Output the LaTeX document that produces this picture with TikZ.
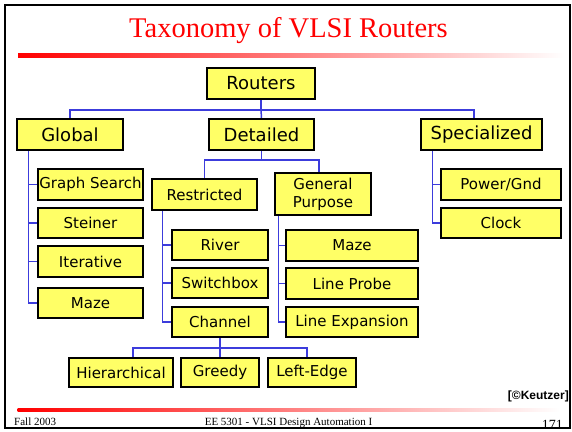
\documentclass[tikz,border=0pt]{standalone}
\usepackage{fontspec}
\setmainfont{Liberation Serif}
\newfontfamily\boxfont{DejaVu Sans}
\newfontfamily\credfont{Liberation Sans}
\usetikzlibrary{calc}
\definecolor{boxyellow}{RGB}{255,255,102}
\definecolor{linkblue}{RGB}{60,60,220}
\pgfdeclarelayer{back}
\pgfdeclarelayer{bg}
\pgfsetlayers{back,bg,main}
\begin{document}
\begin{tikzpicture}[x=1pt,y=-1pt,
  box/.style={draw=black,line width=1.5pt,fill=boxyellow,inner sep=0pt,
    font=\boxfont\fontsize{15}{18}\selectfont,align=center},
  headbox/.style={box,font=\boxfont\fontsize{18}{21}\selectfont},
  conn/.style={draw=linkblue,line width=1.5pt}]
\useasboundingbox (0,0) rectangle (572,431);
\begin{pgfonlayer}{back}
\fill[white] (0,0) rectangle (572,431);
\end{pgfonlayer}

% title and rules
\node[text=red,font=\fontsize{28.5}{32}\selectfont,anchor=base] (title) at (288.5,37) {Taxonomy of VLSI Routers};
\shade[left color=red,right color=white] (18,53.5) rectangle (565,57);
\shade[left color=red,right color=white] (17.5,408.3) rectangle (560,411.5);

% tree
\node[headbox,minimum width=108pt,minimum height=31pt] (routers) at (261,83.5) {Routers};
\node[headbox,minimum width=106pt,minimum height=31pt] (global) at (70,134.5) {Global};
\node[headbox,minimum width=105pt,minimum height=31pt] (detailed) at (261.5,134.5) {Detailed};
\node[headbox,minimum width=121pt,minimum height=31pt] (special) at (481.5,134.5) {Specialized};

\node[box,minimum width=105pt,minimum height=31pt] (gs) at (90.5,184.5) {Graph Search};
\node[box,minimum width=105pt,minimum height=30pt] (steiner) at (90.5,223) {Steiner};
\node[box,minimum width=105pt,minimum height=31pt] (iter) at (90.5,261.5) {Iterative};
\node[box,minimum width=105pt,minimum height=30pt] (mazeg) at (90.5,303) {Maze};

\node[box,minimum width=105pt,minimum height=31pt] (restricted) at (204.5,194.5) {Restricted};
\node[box,minimum width=96pt,minimum height=42pt] (gp) at (323,194) {General\\Purpose};

\node[box,minimum width=96pt,minimum height=30pt] (river) at (220,245) {River};
\node[box,minimum width=96pt,minimum height=30pt] (switch) at (220,283) {Switchbox};
\node[box,minimum width=96pt,minimum height=30pt] (channel) at (220,322) {Channel};

\node[box,minimum width=132pt,minimum height=31pt] (mazed) at (352,245.5) {Maze};
\node[box,minimum width=132pt,minimum height=31pt] (probe) at (352,283.5) {Line Probe};
\node[box,minimum width=132pt,minimum height=30pt] (lexp) at (352,322) {Line Expansion};

\node[box,minimum width=104pt,minimum height=29pt] (hier) at (121,372.5) {Hierarchical};
\node[box,minimum width=78pt,minimum height=29pt] (greedy) at (220,372.5) {Greedy};
\node[box,minimum width=88pt,minimum height=29pt] (ledge) at (312,372.5) {Left-Edge};

\node[box,minimum width=120pt,minimum height=31pt] (power) at (501,184.5) {Power/Gnd};
\node[box,minimum width=120pt,minimum height=30pt] (clock) at (501,223) {Clock};

% connectors, kept behind the boxes
\begin{pgfonlayer}{bg}
\draw[conn] (routers.south) -- ++(0,10) coordinate (busa);
\draw[conn] (global.north) |- (busa) -| ([xshift=-7.5pt]special.north);
\draw[conn] (busa) -- (detailed.north);

\foreach \c in {gs,steiner,iter,mazeg}
  \draw[conn] ([xshift=12pt]global.south west) |- (\c.west);

\draw[conn] (detailed.south) -- ++(0,9) coordinate (busb);
\draw[conn] (restricted.north) |- (busb) -| ([xshift=-4pt]gp.north);

\foreach \c in {river,switch,channel}
  \draw[conn] ([xshift=11pt]restricted.south west) |- (\c.west);
\foreach \c in {mazed,probe,lexp}
  \draw[conn] ([xshift=4pt]gp.south west) |- (\c.west);
\foreach \c in {power,clock}
  \draw[conn] ([xshift=12pt]special.south west) |- (\c.west);

\draw[conn] (channel.south) -- ++(0,10) coordinate (busc);
\draw[conn] ([xshift=12pt]hier.north) |- (busc) -| ([xshift=-5pt]ledge.north);
\draw[conn] (busc) -- (greedy.north);
\end{pgfonlayer}

% footer
\node[anchor=base east,inner sep=0pt,font=\credfont\bfseries\fontsize{12}{14}\selectfont] (credit) at (569,399) {[©Keutzer]};
\node[anchor=base west,inner sep=0pt,font=\fontsize{11}{13}\selectfont] (fall) at (14,425) {Fall 2003};
\node[anchor=base,inner sep=0pt,font=\fontsize{11}{13}\selectfont] (course) at (288.5,425) {EE 5301 - VLSI Design Automation I};
\node[anchor=base east,inner sep=0pt,font=\fontsize{14}{16}\selectfont] (page) at (563,429) {171};

% slide frame
\draw[line width=2pt] (4.5,4.5) rectangle (570,428);
\end{tikzpicture}
\end{document}
